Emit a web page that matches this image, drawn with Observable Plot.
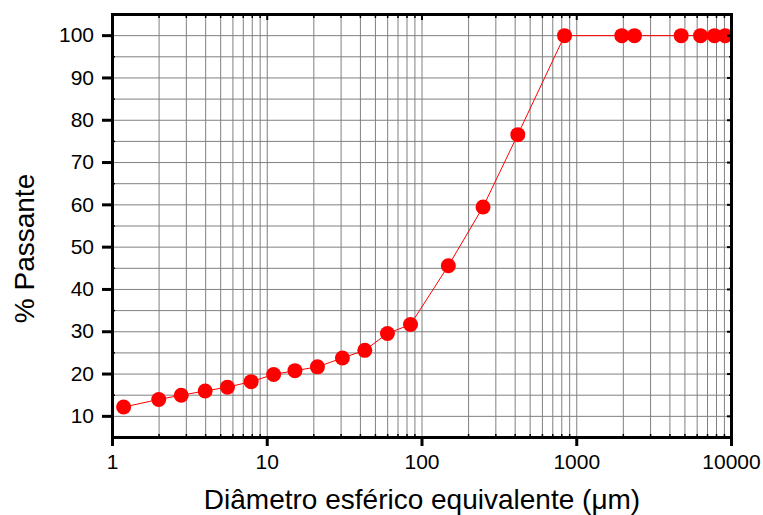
<!DOCTYPE html>
<html><head><meta charset="utf-8">
<script src="https://cdn.jsdelivr.net/npm/d3@7"></script>
<script src="https://cdn.jsdelivr.net/npm/@observablehq/plot@0.6"></script>
<style>
body{margin:0;background:#fff}
#chart svg{display:block}
</style>
</head><body><div id="chart"></div>
<script>
// Data
const diameters = [1.18, 1.99, 2.78, 3.97, 5.53, 7.87, 11.0, 15.1, 21.1, 30.6, 42.7, 59.8, 84.3, 148, 248, 416, 834, 1955, 2360, 4730, 6310, 7760, 9100];
const passing   = [12.2, 14.0, 15.0, 16.0, 16.9, 18.2, 19.9, 20.8, 21.7, 23.8, 25.6, 29.6, 31.7, 45.6, 59.5, 76.6, 100, 100, 100, 100, 100, 100, 100];

const xMajorTicks = [1, 10, 100, 1000, 10000];
const xMinorTicks = [2,3,4,5,6,7,8,9, 20,30,40,50,60,70,80,90, 200,300,400,500,600,700,800,900, 2000,3000,4000,5000,6000,7000,8000,9000];
const yMajorTicks = [10, 20, 30, 40, 50, 60, 70, 80, 90, 100];
const yMinorTicks = [15, 25, 35, 45, 55, 65, 75, 85, 95];
const yGridLines  = [10, 15, 20, 25, 30, 35, 40, 45, 50, 55, 60, 65, 70, 75, 80, 85, 90, 95, 100];
const xLabel = "Diâmetro esférico equivalente (μm)";
const yLabel = "% Passante";

const data = diameters.map((d, i) => ({d, p: passing[i]}));
const none = () => "";
const gridStyle = {stroke: "#808080", strokeOpacity: 1, strokeWidth: 1};

const chart = Plot.plot({
  width: 763,
  height: 515,
  marginLeft: 112,
  marginRight: 32,
  marginTop: 14,
  marginBottom: 78,
  style: {fontFamily: "'Liberation Sans', Arial, sans-serif", fontSize: "21px", color: "black", background: "white"},
  x: {type: "log", domain: [1, 10000]},
  y: {domain: [5, 105]},
  marks: [
    Plot.gridX([...xMajorTicks, ...xMinorTicks], gridStyle),
    Plot.gridY(yGridLines, gridStyle),
    Plot.line(data, {x: "d", y: "p", stroke: "#ff0000", strokeWidth: 1}),
    Plot.dot(data, {x: "d", y: "p", r: 7.5, fill: "#ff0000", stroke: "none"}),
    Plot.frame({stroke: "black", strokeWidth: 3}),
    // bottom axis
    Plot.axisX(xMajorTicks, {anchor: "bottom", tickSize: 9, tickPadding: 8, strokeWidth: 3, fontSize: 21, tickFormat: d => String(d), label: null}),
    Plot.axisX(xMinorTicks, {anchor: "bottom", tickSize: -3, strokeWidth: 1.5, tickFormat: none, label: null}),
    // top axis (inward)
    Plot.axisX(xMajorTicks, {anchor: "top", tickSize: -5, strokeWidth: 2, tickFormat: none, label: null}),
    Plot.axisX(xMinorTicks, {anchor: "top", tickSize: -3, strokeWidth: 1.5, tickFormat: none, label: null}),
    // left axis
    Plot.axisY(yMajorTicks, {anchor: "left", tickSize: 10, tickPadding: 8.5, strokeWidth: 3, fontSize: 21, label: null}),
    Plot.axisY(yMinorTicks, {anchor: "left", tickSize: -3, strokeWidth: 1.5, tickFormat: none, label: null}),
    // right axis (inward)
    Plot.axisY(yMajorTicks, {anchor: "right", tickSize: -5, strokeWidth: 2, tickFormat: none, label: null}),
    Plot.axisY(yMinorTicks, {anchor: "right", tickSize: -3, strokeWidth: 1.5, tickFormat: none, label: null}),
    // axis titles
    Plot.text([xLabel], {frameAnchor: "bottom", textAnchor: "middle", lineAnchor: "middle", dy: 63, fontSize: 28, fill: "black"}),
    Plot.text([yLabel], {frameAnchor: "left", textAnchor: "middle", lineAnchor: "middle", rotate: -90, dx: -87, dy: 22.5, fontSize: 28, fill: "black"})
  ]
});
document.getElementById("chart").appendChild(chart);
</script>
</body></html>
